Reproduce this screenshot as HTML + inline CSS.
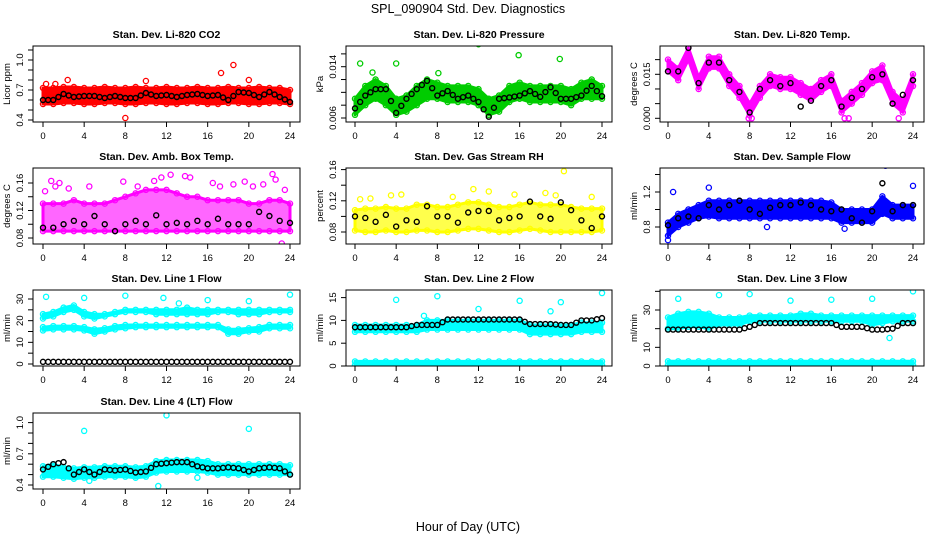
<!DOCTYPE html>
<html><head><meta charset="utf-8">
<style>
body{margin:0;background:#fff;}
svg{display:block;font-family:"Liberation Sans",sans-serif;}
</style></head>
<body>
<svg id="chart" width="936" height="540" viewBox="0 0 936 540">
<text x="468" y="13" text-anchor="middle" font-size="12.5">SPL_090904  Std. Dev. Diagnostics</text>
<text x="468" y="531" text-anchor="middle" font-size="12.5">Hour of Day (UTC)</text>
</svg>
<script>
const hours = [0,1,2,3,4,5,6,7,8,9,10,11,12,13,14,15,16,17,18,19,20,21,22,23,24];
const xTicks = [0,4,8,12,16,20,24];

const co2Lo = [0.56,0.56,0.57,0.57,0.56,0.56,0.57,0.57,0.56,0.56,0.57,0.57,0.56,0.56,0.57,0.57,0.56,0.56,0.57,0.57,0.56,0.56,0.57,0.57,0.56];
const co2Hi = [0.72,0.72,0.73,0.73,0.72,0.72,0.73,0.72,0.72,0.73,0.72,0.72,0.73,0.72,0.72,0.73,0.72,0.72,0.73,0.72,0.72,0.73,0.72,0.72,0.7];
const co2Mean = [0.6,0.6,0.66,0.63,0.64,0.64,0.62,0.64,0.62,0.62,0.67,0.64,0.65,0.63,0.65,0.66,0.64,0.65,0.6,0.68,0.67,0.63,0.68,0.63,0.58];
const co2OutX = [18.3,18.5,17.3,8,2.4,10,20,0.3,1.2];
const co2OutY = [1.2,0.95,0.87,0.42,0.8,0.79,0.8,0.76,0.76];

const presLo = [0.0065,0.008,0.009,0.008,0.0065,0.007,0.008,0.009,0.009,0.0085,0.0085,0.0085,0.008,0.0065,0.007,0.0085,0.009,0.0085,0.0085,0.0085,0.0085,0.008,0.009,0.009,0.009];
const presHi = [0.009,0.011,0.012,0.011,0.009,0.0095,0.011,0.012,0.0115,0.011,0.011,0.011,0.0105,0.009,0.0095,0.011,0.0115,0.011,0.011,0.011,0.011,0.0105,0.0115,0.012,0.011];
const presMean = [0.0075,0.0095,0.0105,0.0105,0.0068,0.009,0.0105,0.0118,0.0095,0.0102,0.009,0.0095,0.0085,0.0062,0.009,0.0092,0.0095,0.0102,0.0093,0.0108,0.009,0.009,0.0095,0.011,0.0094];
const presOutX = [0.5,4,8,12,15.9,19.9,23.9,1.7,8.1];
const presOutY = [0.0145,0.0145,0.0188,0.0175,0.0158,0.0152,0.0181,0.0131,0.013];

const tempLo = [0.016,0.013,0.02,0.01,0.017,0.017,0.011,0.007,0.001,0.007,0.011,0.01,0.01,0.008,0.006,0.009,0.011,0.002,0.005,0.008,0.012,0.013,0.005,0.002,0.011];
const tempHi = [0.02,0.017,0.024,0.014,0.021,0.021,0.015,0.011,0.005,0.011,0.015,0.014,0.014,0.012,0.01,0.013,0.015,0.006,0.009,0.012,0.016,0.018,0.009,0.006,0.015];
const tempMean = [0.016,0.016,0.024,0.012,0.019,0.019,0.013,0.009,0.002,0.010,0.013,0.011,0.012,0.004,0.006,0.011,0.013,0.004,0.007,0.010,0.014,0.015,0.005,0.008,0.013];
const tempOutX = [17.3,17.7,22.6,8.2,7.9];
const tempOutY = [0,0,0,0,0];

const ambLo = [0.09,0.09,0.09,0.09,0.09,0.09,0.09,0.09,0.09,0.09,0.09,0.09,0.09,0.09,0.09,0.09,0.09,0.09,0.09,0.09,0.09,0.09,0.09,0.09,0.09];
const ambHi = [0.13,0.13,0.13,0.135,0.13,0.13,0.13,0.135,0.14,0.145,0.15,0.15,0.15,0.145,0.14,0.14,0.135,0.135,0.135,0.135,0.13,0.13,0.135,0.135,0.13];
const ambMean = [0.095,0.095,0.1,0.105,0.1,0.112,0.1,0.09,0.1,0.105,0.1,0.113,0.1,0.102,0.1,0.105,0.1,0.108,0.1,0.1,0.1,0.118,0.112,0.105,0.102];
const ambOutX = [0.2,0.8,1.2,1.6,2.5,4.5,7.8,9.2,10.8,11.5,12.4,13.8,14.3,16.5,17.2,18.5,19.6,20.4,21.4,22.3,22.6,23.5,23.2];
const ambOutY = [0.148,0.163,0.155,0.16,0.152,0.155,0.162,0.155,0.163,0.168,0.172,0.17,0.168,0.16,0.155,0.158,0.162,0.155,0.158,0.173,0.165,0.15,0.072];

const rhLo = [0.082,0.08,0.08,0.082,0.08,0.08,0.082,0.082,0.08,0.08,0.082,0.084,0.084,0.082,0.08,0.08,0.082,0.084,0.082,0.08,0.08,0.08,0.08,0.08,0.082];
const rhHi = [0.108,0.11,0.11,0.112,0.11,0.11,0.115,0.115,0.112,0.112,0.115,0.118,0.118,0.115,0.112,0.112,0.115,0.118,0.115,0.115,0.115,0.112,0.11,0.11,0.11];
const rhMean = [0.1,0.098,0.093,0.102,0.087,0.095,0.093,0.113,0.1,0.1,0.092,0.105,0.107,0.107,0.095,0.098,0.1,0.119,0.1,0.097,0.118,0.108,0.095,0.085,0.1];
const rhOutX = [20.3,4.5,13,0.5,1.5,3.5,9.5,11.5,15.5,18.5,19.5,23];
const rhOutY = [0.158,0.128,0.132,0.122,0.123,0.127,0.125,0.135,0.128,0.13,0.127,0.125];

const flowLo = [0.7,0.8,0.85,0.9,0.92,0.9,0.9,0.9,0.9,0.9,0.9,0.9,0.9,0.9,0.9,0.9,0.9,0.85,0.85,0.85,0.85,0.95,0.9,0.9,0.9];
const flowHi = [0.85,0.95,1.0,1.05,1.1,1.1,1.1,1.1,1.1,1.1,1.1,1.1,1.1,1.1,1.1,1.1,1.08,1.0,1.0,1.0,1.0,1.15,1.05,1.05,1.05];
const flowMean = [0.82,0.9,0.92,0.9,1.05,1.0,1.05,1.1,1.0,0.95,1.02,1.05,1.05,1.08,1.05,1.0,0.98,1.0,0.9,0.85,0.98,1.3,0.98,1.05,1.05];
const flowOutX = [4,0.5,21.3,24,0,9.7,17.3];
const flowOutY = [1.25,1.2,1.5,1.27,0.65,0.8,0.78];

const l1UpLo = [21,22,24,25,22,21,22,23,24,24,24,23,23,23,23,23,23,24,24,23,23,23,24,24,24];
const l1UpHi = [23,24,26,27,24,23,23,24,25,25,25,25,25,25,26,25,25,25,25,25,25,25,25,25,25];
const l1LoLo = [15.5,16,16,16,15.5,14,15,16,16.5,17,17,17,17,17,17,17,17,17,14,14,15,15,16.5,16.5,16.5];
const l1LoHi = [17,17.5,17.5,17.5,17,16,16.5,17.5,18,18,18,18,18,18,18,18,18,18,16,16,16.5,17,18,18,18];
const l1Mean = [1,1,1,1,1,1,1,1,1,1,1,1,1,1,1,1,1,1,1,1,1,1,1,1,1];
const l1OutX = [0.3,4,8,11.7,16,20,24,13.2];
const l1OutY = [31,30.5,31.5,30.5,29.5,29,32,28];

const l2Lo = [7.5,7.5,7.5,7.5,7.5,7.5,7.5,8,8,8,8,8,8,8,8,8,8,7,7,7,7,7,7.5,7.5,7.5];
const l2Hi = [9,9,9,9,9,9,9,10,10,10,10,10,10,10,10,10,10,9,9,9,9,9,9.5,9.5,9.5];
const l2Mean = [8.5,8.5,8.5,8.5,8.5,8.5,9,9,9,10.2,10.2,10.2,10.2,10.2,10.2,10.2,10.2,9.2,9.2,9.2,9,9,10,10,10.5];
const l2BaseLo = [0.2,0.2,0.2,0.2,0.2,0.2,0.2,0.2,0.2,0.2,0.2,0.2,0.2,0.2,0.2,0.2,0.2,0.2,0.2,0.2,0.2,0.2,0.2,0.2,0.2];
const l2BaseHi = [1,1,1,1,1,1,1,1,1,1,1,1,1,1,1,1,1,1,1,1,1,1,1,1,1];
const l2OutX = [4,8,12,16,20,24,6.7,19];
const l2OutY = [14.5,15.3,12.5,14.3,14,16,11,12];

const l3Lo = [20,20,21,21,20,22,22,22,24,24,24,24,24,24,24,24,24,24,24,24,22,23,24,24,24];
const l3Hi = [26,28,29,29,28,26,26,26,27,27,27,27,27,28,28,27,27,27,27,27,27,27,27,27,27];
const l3Mean = [19.5,19.5,19.5,19.5,19.5,19.5,19.5,19.5,21,23,23,23,23,23,23,23,23,21,21,21,19.5,19.5,20,23,23];
const l3BaseLo = [0.5,0.5,0.5,0.5,0.5,0.5,0.5,0.5,0.5,0.5,0.5,0.5,0.5,0.5,0.5,0.5,0.5,0.5,0.5,0.5,0.5,0.5,0.5,0.5,0.5];
const l3BaseHi = [2.5,2.5,2.5,2.5,2.5,2.5,2.5,2.5,2.5,2.5,2.5,2.5,2.5,2.5,2.5,2.5,2.5,2.5,2.5,2.5,2.5,2.5,2.5,2.5,2.5];
const l3OutX = [1,5,8,12,16,20,24,21.7,19];
const l3OutY = [36,38,38.5,35,35.5,36,40,15,26];

const l4Lo = [0.48,0.48,0.47,0.46,0.47,0.47,0.48,0.48,0.48,0.47,0.48,0.52,0.53,0.53,0.53,0.53,0.52,0.5,0.5,0.5,0.5,0.5,0.5,0.5,0.5];
const l4Hi = [0.58,0.6,0.57,0.56,0.57,0.57,0.58,0.58,0.58,0.57,0.58,0.63,0.64,0.64,0.64,0.64,0.63,0.6,0.6,0.6,0.6,0.6,0.6,0.6,0.59];
const l4Mean = [0.55,0.6,0.62,0.5,0.55,0.5,0.55,0.54,0.55,0.52,0.53,0.6,0.61,0.62,0.62,0.58,0.56,0.56,0.57,0.56,0.53,0.56,0.57,0.56,0.5];
const l4OutX = [4,12,20,11.2,4.5,15];
const l4OutY = [0.92,1.07,0.94,0.39,0.44,0.47];

const NS = 'http://www.w3.org/2000/svg';
const svg = document.getElementById('chart');
function mk(tag, attrs, parent) {
  const e = document.createElementNS(NS, tag);
  for (const k in attrs) e.setAttribute(k, attrs[k]);
  (parent || svg).appendChild(e);
  return e;
}

const cols = [{l:33,r:300,x0:43,x24:290},{l:346,r:612,x0:355,x24:602},{l:660,r:924,x0:668,x24:913}];
const rows = [{t:46,b:122},{t:168,b:244},{t:290,b:366},{t:413,b:489}];

function panel(o) {
  const c = cols[o.col], rw = rows[o.row];
  const g = mk('g', {});
  
  
  const xs = h => c.x0 + (h / 24) * (c.x24 - c.x0);
  const ys = v => o.py0 - (v - o.v0) / (o.v1 - o.v0) * (o.py0 - o.py1);
  const cp = mk('clipPath', {id: 'clip-' + o.name}, g);
  mk('rect', {x: c.l, y: rw.t, width: c.r - c.l, height: rw.b - rw.t}, cp);
  const pg = mk('g', {'clip-path': 'url(#clip-' + o.name + ')'}, g);
  o.bands.forEach(b => {
    let d = '';
    hours.forEach((h, i) => { d += (i ? 'L' : 'M') + xs(h).toFixed(1) + ' ' + ys(b.hi[i]).toFixed(1); });
    for (let i = hours.length - 1; i >= 0; i--) d += 'L' + xs(hours[i]).toFixed(1) + ' ' + ys(b.lo[i]).toFixed(1);
    const p = mk('path', {d: d + 'Z', fill: o.color, 'fill-opacity': o.op || 1, stroke: o.color, 'stroke-width': 3, 'stroke-linejoin': 'round'}, pg);
    
    
    hours.forEach((h, i) => {
      [b.lo[i], b.hi[i]].forEach(v => {
        const ci = mk('circle', {cx: xs(h), cy: ys(v), r: 2.6, fill: 'none', stroke: o.color, 'stroke-width': 1.3}, pg);
        
        
      });
    });
  });
  o.outX.forEach((h, i) => {
    const ci = mk('circle', {cx: xs(h), cy: ys(o.outY[i]), r: 2.6, fill: 'none', stroke: o.color, 'stroke-width': 1.3}, pg);
    
    
  });
  o.mean.forEach((v, i) => {
    const ci = mk('circle', {cx: xs(hours[i]), cy: ys(v), r: 2.5, fill: 'none', stroke: '#000', 'stroke-width': 1.4}, pg);
    
    
  });
  if (o.meanHalf) {
    for (let i = 0; i < hours.length - 1; i++) {
      const ci = mk('circle', {cx: xs(hours[i] + 0.5), cy: ys((o.mean[i] + o.mean[i + 1]) / 2), r: 2.5, fill: 'none', stroke: '#000', 'stroke-width': 1.4}, pg);
      
      
    }
  }
  const box = mk('rect', {x: c.l, y: rw.t, width: c.r - c.l, height: rw.b - rw.t, fill: 'none', stroke: '#000', 'stroke-width': 1}, g);
  
  
  const tt = mk('text', {x: (c.l + c.r) / 2, y: rw.t - 8, 'text-anchor': 'middle', 'font-size': 10.5, 'font-weight': 'bold'}, g);
  tt.textContent = o.title;
  
  
  xTicks.forEach(t => {
    const x = xs(t);
    mk('line', {x1: x, x2: x, y1: rw.b, y2: rw.b + 5, stroke: '#000'}, g);
    const tx = mk('text', {x: x, y: rw.b + 17, 'text-anchor': 'middle', 'font-size': 9.5}, g);
    tx.textContent = t;
    
    
  });
  o.yTicks.forEach(v => {
    const y = ys(v);
    if (y < rw.t - 4 || y > rw.b + 4) return;
    mk('line', {x1: c.l, x2: c.l - 5, y1: y, y2: y, stroke: '#000'}, g);
  });
  o.yLabels.forEach(v => {
    const y = ys(v), x = c.l - 10;
    const tx = mk('text', {x: x, y: y, 'text-anchor': 'middle', 'font-size': 9.5, transform: 'rotate(-90 ' + x + ' ' + y + ')'}, g);
    tx.textContent = o.fmt(v);
    
    
  });
  const yx = c.l - 23, ym = (rw.t + rw.b) / 2;
  const yl = mk('text', {x: yx, y: ym, 'text-anchor': 'middle', 'font-size': 9.5, transform: 'rotate(-90 ' + yx + ' ' + ym + ')'}, g);
  yl.textContent = o.ylab;
  
  
}

panel({name:'co2-panel',col:0,row:0,title:'Stan. Dev. Li-820 CO2',ylab:'Licor ppm',color:'#ff0000',v0:0.4,v1:1.0,py0:120,py1:60,
  bands:[{lo:co2Lo,hi:co2Hi}],mean:co2Mean,meanHalf:true,outX:co2OutX,outY:co2OutY,
  yTicks:[0.4,0.5,0.6,0.7,0.8,0.9,1.0,1.1],yLabels:[0.4,0.7,1.0],fmt:v=>v.toFixed(1)});
panel({name:'pressure-panel',col:1,row:0,title:'Stan. Dev. Li-820 Pressure',ylab:'kPa',color:'#00cc00',v0:0.006,v1:0.014,py0:118,py1:66.7,
  bands:[{lo:presLo,hi:presHi}],mean:presMean,meanHalf:true,outX:presOutX,outY:presOutY,
  yTicks:[0.006,0.008,0.010,0.012,0.014,0.016,0.018],yLabels:[0.006,0.014],fmt:v=>v.toFixed(3)});
panel({name:'li820-temp-panel',col:2,row:0,title:'Stan. Dev. Li-820 Temp.',ylab:'degrees C',color:'#ff00ff',v0:0,v1:0.015,py0:118.3,py1:74.3,
  bands:[{lo:tempLo,hi:tempHi}],mean:tempMean,meanHalf:false,outX:tempOutX,outY:tempOutY,
  yTicks:[0,0.005,0.010,0.015,0.020],yLabels:[0,0.015],fmt:v=>v.toFixed(3)});
panel({name:'amb-box-temp-panel',col:0,row:1,title:'Stan. Dev. Amb. Box Temp.',ylab:'degrees C',color:'#ff00ff',op:0.6,v0:0.08,v1:0.16,py0:238,py1:183,
  bands:[{lo:ambLo,hi:ambHi}],mean:ambMean,meanHalf:false,outX:ambOutX,outY:ambOutY,
  yTicks:[0.08,0.10,0.12,0.14,0.16],yLabels:[0.08,0.12,0.16],fmt:v=>v.toFixed(2)});
panel({name:'gas-stream-rh-panel',col:1,row:1,title:'Stan. Dev. Gas Stream RH',ylab:'percent',color:'#ffff00',op:0.7,v0:0.08,v1:0.16,py0:232,py1:169.6,
  bands:[{lo:rhLo,hi:rhHi}],mean:rhMean,meanHalf:false,outX:rhOutX,outY:rhOutY,
  yTicks:[0.08,0.10,0.12,0.14,0.16],yLabels:[0.08,0.12,0.16],fmt:v=>v.toFixed(2)});
panel({name:'sample-flow-panel',col:2,row:1,title:'Stan. Dev. Sample Flow',ylab:'ml/min',color:'#0000ff',v0:0.8,v1:1.2,py0:227,py1:192,
  bands:[{lo:flowLo,hi:flowHi}],mean:flowMean,meanHalf:false,outX:flowOutX,outY:flowOutY,
  yTicks:[0.8,1.0,1.2,1.4],yLabels:[0.8,1.2],fmt:v=>v.toFixed(1)});
panel({name:'line1-flow-panel',col:0,row:2,title:'Stan. Dev. Line 1 Flow',ylab:'ml/min',color:'#00ffff',v0:0,v1:30,py0:364,py1:299,
  bands:[{lo:l1UpLo,hi:l1UpHi},{lo:l1LoLo,hi:l1LoHi}],mean:l1Mean,meanHalf:true,outX:l1OutX,outY:l1OutY,
  yTicks:[0,5,10,15,20,25,30],yLabels:[0,10,20,30],fmt:v=>String(v)});
panel({name:'line2-flow-panel',col:1,row:2,title:'Stan. Dev. Line 2 Flow',ylab:'ml/min',color:'#00ffff',v0:0,v1:15,py0:366,py1:297.6,
  bands:[{lo:l2Lo,hi:l2Hi},{lo:l2BaseLo,hi:l2BaseHi}],mean:l2Mean,meanHalf:true,outX:l2OutX,outY:l2OutY,
  yTicks:[0,5,10,15],yLabels:[0,5,10,15],fmt:v=>String(v)});
panel({name:'line3-flow-panel',col:2,row:2,title:'Stan. Dev. Line 3 Flow',ylab:'ml/min',color:'#00ffff',v0:0,v1:30,py0:366,py1:310,
  bands:[{lo:l3Lo,hi:l3Hi},{lo:l3BaseLo,hi:l3BaseHi}],mean:l3Mean,meanHalf:true,outX:l3OutX,outY:l3OutY,
  yTicks:[0,10,20,30,40],yLabels:[0,10,30],fmt:v=>String(v)});
panel({name:'line4-flow-panel',col:0,row:3,title:'Stan. Dev. Line 4 (LT) Flow',ylab:'ml/min',color:'#00ffff',v0:0.4,v1:1.0,py0:485,py1:422.6,
  bands:[{lo:l4Lo,hi:l4Hi}],mean:l4Mean,meanHalf:true,outX:l4OutX,outY:l4OutY,
  yTicks:[0.4,0.5,0.6,0.7,0.8,0.9,1.0],yLabels:[0.4,0.7,1.0],fmt:v=>v.toFixed(1)});
</script>
</body></html>
